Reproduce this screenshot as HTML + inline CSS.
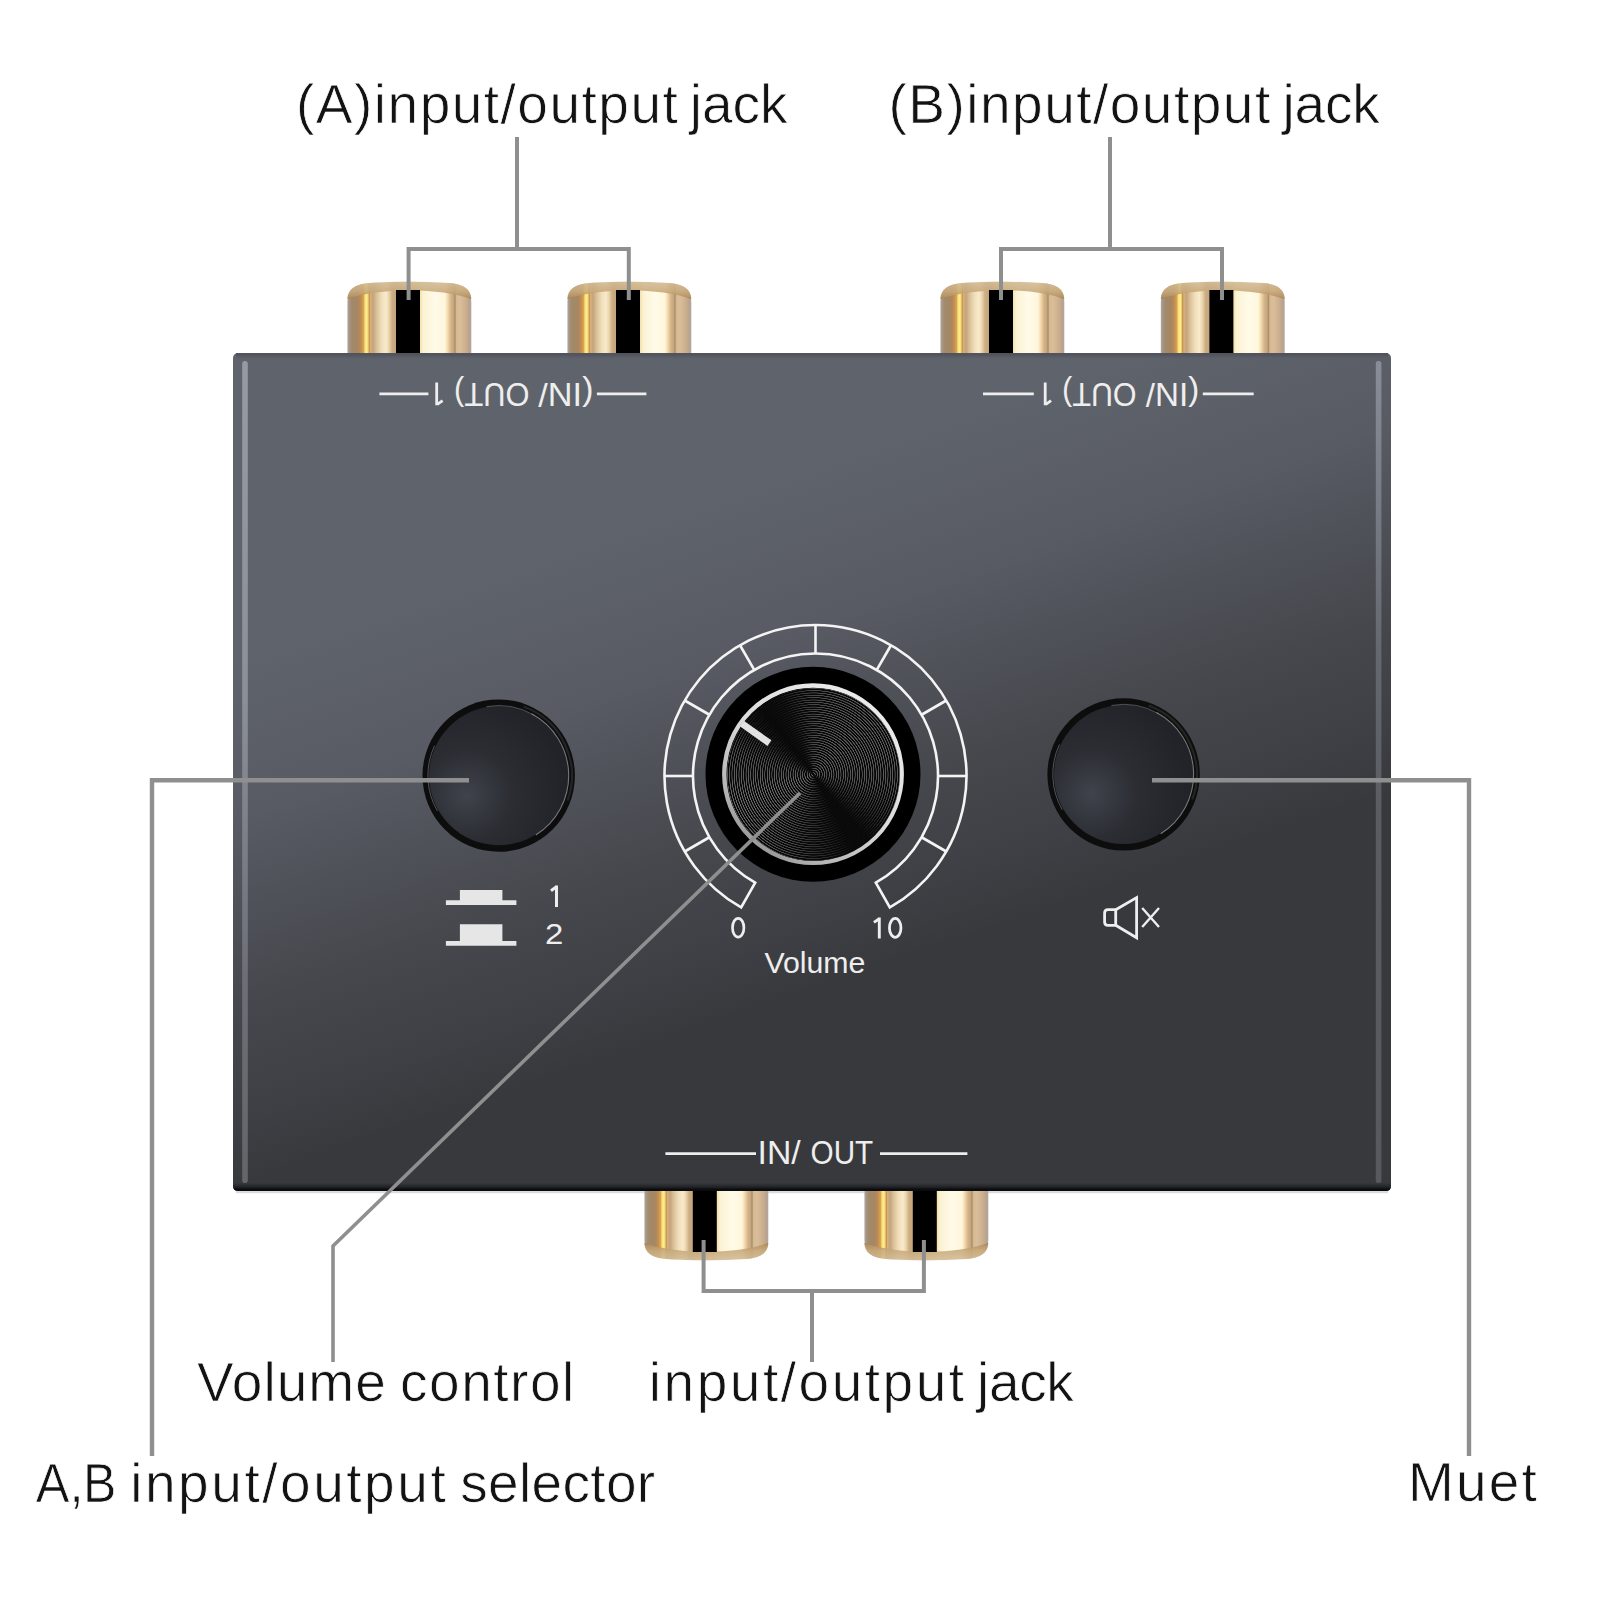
<!DOCTYPE html><html><head><meta charset="utf-8"><style>
html,body{margin:0;padding:0;background:#fff;width:1600px;height:1600px;overflow:hidden}
.lay{position:absolute;left:0;top:0}
#knobface{position:absolute;left:726.5px;top:687.7px;width:173px;height:173px;border-radius:50%;background:repeating-radial-gradient(circle at 50% 50%, rgba(8,8,8,1) 0px, rgba(8,8,8,1) 1.0px, rgba(0,0,0,0) 1.35px, rgba(0,0,0,0) 1.95px, rgba(8,8,8,1) 2.35px),conic-gradient(from 0deg at 50% 50%, #4a4a4a 0deg, #5e5e5e 45deg, #585858 95deg, #303030 122deg, #0c0c0c 140deg, #0c0c0c 152deg, #303030 178deg, #5c5c5c 220deg, #6a6a6a 250deg, #505050 285deg, #1e1e1e 308deg, #0a0a0a 322deg, #161616 338deg, #4a4a4a 360deg)}
</style></head><body>
<svg class="lay" width="1600" height="1600" viewBox="0 0 1600 1600">
<defs>
<linearGradient id="gt0" gradientUnits="userSpaceOnUse" x1="347.4" y1="0" x2="471.29999999999995" y2="0"><stop offset="0.0" stop-color="#b4aca6"/><stop offset="0.013" stop-color="#a89684"/><stop offset="0.037" stop-color="#a08a6c"/><stop offset="0.086" stop-color="#a88660"/><stop offset="0.11" stop-color="#c08c58"/><stop offset="0.13" stop-color="#dca444"/><stop offset="0.142" stop-color="#f6e084"/><stop offset="0.158" stop-color="#fff090"/><stop offset="0.17" stop-color="#e8c060"/><stop offset="0.176" stop-color="#c09048"/><stop offset="0.186" stop-color="#d8b080"/><stop offset="0.207" stop-color="#c4a47c"/><stop offset="0.239" stop-color="#dcc49c"/><stop offset="0.279" stop-color="#f2e0bc"/><stop offset="0.312" stop-color="#f8eacc"/><stop offset="0.336" stop-color="#ead4ac"/><stop offset="0.36" stop-color="#cdae84"/><stop offset="0.392" stop-color="#c4a47c"/><stop offset="0.588" stop-color="#f4e2ac"/><stop offset="0.61" stop-color="#fbf2d4"/><stop offset="0.707" stop-color="#fffbe8"/><stop offset="0.788" stop-color="#fff6dc"/><stop offset="0.812" stop-color="#f2d6a8"/><stop offset="0.836" stop-color="#d4b48a"/><stop offset="0.86" stop-color="#c4a47c"/><stop offset="0.868" stop-color="#a88860"/><stop offset="0.88" stop-color="#d4ba94"/><stop offset="0.909" stop-color="#dabe9a"/><stop offset="0.957" stop-color="#cbae8c"/><stop offset="0.985" stop-color="#b8a290"/><stop offset="1.0" stop-color="#b0a8a4"/></linearGradient>
<linearGradient id="gt1" gradientUnits="userSpaceOnUse" x1="567.4" y1="0" x2="691.3" y2="0"><stop offset="0.0" stop-color="#b4aca6"/><stop offset="0.013" stop-color="#a89684"/><stop offset="0.037" stop-color="#a08a6c"/><stop offset="0.086" stop-color="#a88660"/><stop offset="0.11" stop-color="#c08c58"/><stop offset="0.13" stop-color="#dca444"/><stop offset="0.142" stop-color="#f6e084"/><stop offset="0.158" stop-color="#fff090"/><stop offset="0.17" stop-color="#e8c060"/><stop offset="0.176" stop-color="#c09048"/><stop offset="0.186" stop-color="#d8b080"/><stop offset="0.207" stop-color="#c4a47c"/><stop offset="0.239" stop-color="#dcc49c"/><stop offset="0.279" stop-color="#f2e0bc"/><stop offset="0.312" stop-color="#f8eacc"/><stop offset="0.336" stop-color="#ead4ac"/><stop offset="0.36" stop-color="#cdae84"/><stop offset="0.392" stop-color="#c4a47c"/><stop offset="0.588" stop-color="#f4e2ac"/><stop offset="0.61" stop-color="#fbf2d4"/><stop offset="0.707" stop-color="#fffbe8"/><stop offset="0.788" stop-color="#fff6dc"/><stop offset="0.812" stop-color="#f2d6a8"/><stop offset="0.836" stop-color="#d4b48a"/><stop offset="0.86" stop-color="#c4a47c"/><stop offset="0.868" stop-color="#a88860"/><stop offset="0.88" stop-color="#d4ba94"/><stop offset="0.909" stop-color="#dabe9a"/><stop offset="0.957" stop-color="#cbae8c"/><stop offset="0.985" stop-color="#b8a290"/><stop offset="1.0" stop-color="#b0a8a4"/></linearGradient>
<linearGradient id="gt2" gradientUnits="userSpaceOnUse" x1="940.4" y1="0" x2="1064.3" y2="0"><stop offset="0.0" stop-color="#b4aca6"/><stop offset="0.013" stop-color="#a89684"/><stop offset="0.037" stop-color="#a08a6c"/><stop offset="0.086" stop-color="#a88660"/><stop offset="0.11" stop-color="#c08c58"/><stop offset="0.13" stop-color="#dca444"/><stop offset="0.142" stop-color="#f6e084"/><stop offset="0.158" stop-color="#fff090"/><stop offset="0.17" stop-color="#e8c060"/><stop offset="0.176" stop-color="#c09048"/><stop offset="0.186" stop-color="#d8b080"/><stop offset="0.207" stop-color="#c4a47c"/><stop offset="0.239" stop-color="#dcc49c"/><stop offset="0.279" stop-color="#f2e0bc"/><stop offset="0.312" stop-color="#f8eacc"/><stop offset="0.336" stop-color="#ead4ac"/><stop offset="0.36" stop-color="#cdae84"/><stop offset="0.392" stop-color="#c4a47c"/><stop offset="0.588" stop-color="#f4e2ac"/><stop offset="0.61" stop-color="#fbf2d4"/><stop offset="0.707" stop-color="#fffbe8"/><stop offset="0.788" stop-color="#fff6dc"/><stop offset="0.812" stop-color="#f2d6a8"/><stop offset="0.836" stop-color="#d4b48a"/><stop offset="0.86" stop-color="#c4a47c"/><stop offset="0.868" stop-color="#a88860"/><stop offset="0.88" stop-color="#d4ba94"/><stop offset="0.909" stop-color="#dabe9a"/><stop offset="0.957" stop-color="#cbae8c"/><stop offset="0.985" stop-color="#b8a290"/><stop offset="1.0" stop-color="#b0a8a4"/></linearGradient>
<linearGradient id="gt3" gradientUnits="userSpaceOnUse" x1="1160.8" y1="0" x2="1284.7" y2="0"><stop offset="0.0" stop-color="#b4aca6"/><stop offset="0.013" stop-color="#a89684"/><stop offset="0.037" stop-color="#a08a6c"/><stop offset="0.086" stop-color="#a88660"/><stop offset="0.11" stop-color="#c08c58"/><stop offset="0.13" stop-color="#dca444"/><stop offset="0.142" stop-color="#f6e084"/><stop offset="0.158" stop-color="#fff090"/><stop offset="0.17" stop-color="#e8c060"/><stop offset="0.176" stop-color="#c09048"/><stop offset="0.186" stop-color="#d8b080"/><stop offset="0.207" stop-color="#c4a47c"/><stop offset="0.239" stop-color="#dcc49c"/><stop offset="0.279" stop-color="#f2e0bc"/><stop offset="0.312" stop-color="#f8eacc"/><stop offset="0.336" stop-color="#ead4ac"/><stop offset="0.36" stop-color="#cdae84"/><stop offset="0.392" stop-color="#c4a47c"/><stop offset="0.588" stop-color="#f4e2ac"/><stop offset="0.61" stop-color="#fbf2d4"/><stop offset="0.707" stop-color="#fffbe8"/><stop offset="0.788" stop-color="#fff6dc"/><stop offset="0.812" stop-color="#f2d6a8"/><stop offset="0.836" stop-color="#d4b48a"/><stop offset="0.86" stop-color="#c4a47c"/><stop offset="0.868" stop-color="#a88860"/><stop offset="0.88" stop-color="#d4ba94"/><stop offset="0.909" stop-color="#dabe9a"/><stop offset="0.957" stop-color="#cbae8c"/><stop offset="0.985" stop-color="#b8a290"/><stop offset="1.0" stop-color="#b0a8a4"/></linearGradient>
<linearGradient id="gb0" gradientUnits="userSpaceOnUse" x1="644.4" y1="0" x2="768.3" y2="0"><stop offset="0.0" stop-color="#b4aca6"/><stop offset="0.013" stop-color="#a89684"/><stop offset="0.037" stop-color="#a08a6c"/><stop offset="0.086" stop-color="#a88660"/><stop offset="0.11" stop-color="#c08c58"/><stop offset="0.13" stop-color="#dca444"/><stop offset="0.142" stop-color="#f6e084"/><stop offset="0.158" stop-color="#fff090"/><stop offset="0.17" stop-color="#e8c060"/><stop offset="0.176" stop-color="#c09048"/><stop offset="0.186" stop-color="#d8b080"/><stop offset="0.207" stop-color="#c4a47c"/><stop offset="0.239" stop-color="#dcc49c"/><stop offset="0.279" stop-color="#f2e0bc"/><stop offset="0.312" stop-color="#f8eacc"/><stop offset="0.336" stop-color="#ead4ac"/><stop offset="0.36" stop-color="#cdae84"/><stop offset="0.392" stop-color="#c4a47c"/><stop offset="0.588" stop-color="#f4e2ac"/><stop offset="0.61" stop-color="#fbf2d4"/><stop offset="0.707" stop-color="#fffbe8"/><stop offset="0.788" stop-color="#fff6dc"/><stop offset="0.812" stop-color="#f2d6a8"/><stop offset="0.836" stop-color="#d4b48a"/><stop offset="0.86" stop-color="#c4a47c"/><stop offset="0.868" stop-color="#a88860"/><stop offset="0.88" stop-color="#d4ba94"/><stop offset="0.909" stop-color="#dabe9a"/><stop offset="0.957" stop-color="#cbae8c"/><stop offset="0.985" stop-color="#b8a290"/><stop offset="1.0" stop-color="#b0a8a4"/></linearGradient>
<linearGradient id="gb1" gradientUnits="userSpaceOnUse" x1="864.4" y1="0" x2="988.3" y2="0"><stop offset="0.0" stop-color="#b4aca6"/><stop offset="0.013" stop-color="#a89684"/><stop offset="0.037" stop-color="#a08a6c"/><stop offset="0.086" stop-color="#a88660"/><stop offset="0.11" stop-color="#c08c58"/><stop offset="0.13" stop-color="#dca444"/><stop offset="0.142" stop-color="#f6e084"/><stop offset="0.158" stop-color="#fff090"/><stop offset="0.17" stop-color="#e8c060"/><stop offset="0.176" stop-color="#c09048"/><stop offset="0.186" stop-color="#d8b080"/><stop offset="0.207" stop-color="#c4a47c"/><stop offset="0.239" stop-color="#dcc49c"/><stop offset="0.279" stop-color="#f2e0bc"/><stop offset="0.312" stop-color="#f8eacc"/><stop offset="0.336" stop-color="#ead4ac"/><stop offset="0.36" stop-color="#cdae84"/><stop offset="0.392" stop-color="#c4a47c"/><stop offset="0.588" stop-color="#f4e2ac"/><stop offset="0.61" stop-color="#fbf2d4"/><stop offset="0.707" stop-color="#fffbe8"/><stop offset="0.788" stop-color="#fff6dc"/><stop offset="0.812" stop-color="#f2d6a8"/><stop offset="0.836" stop-color="#d4b48a"/><stop offset="0.86" stop-color="#c4a47c"/><stop offset="0.868" stop-color="#a88860"/><stop offset="0.88" stop-color="#d4ba94"/><stop offset="0.909" stop-color="#dabe9a"/><stop offset="0.957" stop-color="#cbae8c"/><stop offset="0.985" stop-color="#b8a290"/><stop offset="1.0" stop-color="#b0a8a4"/></linearGradient>
<linearGradient id="rimT" x1="0" y1="0" x2="0" y2="1"><stop offset="0" stop-color="#d2bc98" stop-opacity="1"/><stop offset="0.55" stop-color="#c8aa7c" stop-opacity="1"/><stop offset="0.85" stop-color="#b89464" stop-opacity="1"/><stop offset="1" stop-color="#9a7a4c" stop-opacity="1"/></linearGradient>
<linearGradient id="rimB" x1="0" y1="1" x2="0" y2="0"><stop offset="0" stop-color="#d2bc98" stop-opacity="1"/><stop offset="0.55" stop-color="#c8aa7c" stop-opacity="1"/><stop offset="0.85" stop-color="#b89464" stop-opacity="1"/><stop offset="1" stop-color="#9a7a4c" stop-opacity="1"/></linearGradient>
<linearGradient id="boxg" gradientUnits="userSpaceOnUse" x1="225.4" y1="662.9" x2="386.4" y2="1136.4"><stop offset="0" stop-color="#5f636b"/><stop offset="0.3" stop-color="#585b63"/><stop offset="0.48" stop-color="#4f5159"/><stop offset="0.67" stop-color="#46474c"/><stop offset="0.86" stop-color="#3f4045"/><stop offset="1" stop-color="#38393d"/></linearGradient>
<linearGradient id="botedge" x1="0" y1="0" x2="0" y2="1"><stop offset="0" stop-color="#222326" stop-opacity="0"/><stop offset="0.5" stop-color="#222326" stop-opacity="1"/><stop offset="0.8" stop-color="#0b0c10" stop-opacity="1"/><stop offset="1" stop-color="#0b0c10" stop-opacity="1"/></linearGradient>
<linearGradient id="topedge" x1="0" y1="0" x2="0" y2="1"><stop offset="0" stop-color="#50525c" stop-opacity="1"/><stop offset="0.3" stop-color="#52545e" stop-opacity="1"/><stop offset="1" stop-color="#5f636b" stop-opacity="0"/></linearGradient>
<linearGradient id="stripL" x1="0" y1="0" x2="0" y2="1"><stop offset="0" stop-color="#959aa5"/><stop offset="0.4" stop-color="#8c909b"/><stop offset="0.75" stop-color="#6d6f77"/><stop offset="1" stop-color="#646569"/></linearGradient>
<linearGradient id="stripR" x1="0" y1="0" x2="0" y2="1"><stop offset="0" stop-color="#898d97"/><stop offset="0.15" stop-color="#7a7e87"/><stop offset="0.35" stop-color="#65686f"/><stop offset="0.55" stop-color="#5a5c62"/><stop offset="1" stop-color="#58595e"/></linearGradient>
<linearGradient id="rim" gradientUnits="userSpaceOnUse" x1="870" y1="700" x2="750" y2="860"><stop offset="0" stop-color="#ececec"/><stop offset="0.45" stop-color="#dcdcdc"/><stop offset="0.8" stop-color="#b4b4b4"/><stop offset="1" stop-color="#8a8a8a"/></linearGradient>
<radialGradient id="btn" cx="0.27" cy="0.64" r="0.72"><stop offset="0" stop-color="#40434b"/><stop offset="0.45" stop-color="#2b2d33"/><stop offset="1" stop-color="#222328"/></radialGradient>
</defs>
<rect x="236" y="1191" width="1152" height="2.2" fill="#9a9aa0" opacity="0.35"/>
<path d="M347.4,356.0 V302.0 C347.4,289.0 355.4,284.2 369.4,283.0 Q409.34999999999997,280.4 449.29999999999995,283.0 C463.29999999999995,284.2 471.29999999999995,289.0 471.29999999999995,302.0 V356.0 Z" fill="url(#gt0)"/>
<path d="M347.4,299.0 C347.4,289.0 355.4,284.2 369.4,283.0 Q409.34999999999997,280.4 449.29999999999995,283.0 C463.29999999999995,284.2 471.29999999999995,289.0 471.29999999999995,299.0 Q446.52,290.5 409.34999999999997,290.2 Q372.17999999999995,290.5 347.4,299.0 Z" fill="url(#rimT)" opacity="0.88"/>
<rect x="396.0" y="290" width="24" height="66" fill="#000"/>
<path d="M567.4,356.0 V302.0 C567.4,289.0 575.4,284.2 589.4,283.0 Q629.35,280.4 669.3,283.0 C683.3,284.2 691.3,289.0 691.3,302.0 V356.0 Z" fill="url(#gt1)"/>
<path d="M567.4,299.0 C567.4,289.0 575.4,284.2 589.4,283.0 Q629.35,280.4 669.3,283.0 C683.3,284.2 691.3,289.0 691.3,299.0 Q666.52,290.5 629.35,290.2 Q592.18,290.5 567.4,299.0 Z" fill="url(#rimT)" opacity="0.88"/>
<rect x="616.0" y="290" width="24" height="66" fill="#000"/>
<path d="M940.4,356.0 V302.0 C940.4,289.0 948.4,284.2 962.4,283.0 Q1002.35,280.4 1042.3,283.0 C1056.3,284.2 1064.3,289.0 1064.3,302.0 V356.0 Z" fill="url(#gt2)"/>
<path d="M940.4,299.0 C940.4,289.0 948.4,284.2 962.4,283.0 Q1002.35,280.4 1042.3,283.0 C1056.3,284.2 1064.3,289.0 1064.3,299.0 Q1039.52,290.5 1002.35,290.2 Q965.18,290.5 940.4,299.0 Z" fill="url(#rimT)" opacity="0.88"/>
<rect x="989.0" y="290" width="24" height="66" fill="#000"/>
<path d="M1160.8,356.0 V302.0 C1160.8,289.0 1168.8,284.2 1182.8,283.0 Q1222.75,280.4 1262.7,283.0 C1276.7,284.2 1284.7,289.0 1284.7,302.0 V356.0 Z" fill="url(#gt3)"/>
<path d="M1160.8,299.0 C1160.8,289.0 1168.8,284.2 1182.8,283.0 Q1222.75,280.4 1262.7,283.0 C1276.7,284.2 1284.7,289.0 1284.7,299.0 Q1259.92,290.5 1222.75,290.2 Q1185.58,290.5 1160.8,299.0 Z" fill="url(#rimT)" opacity="0.88"/>
<rect x="1209.3999999999999" y="290" width="24" height="66" fill="#000"/>
<path d="M644.4,1188.0 V1240.0 C644.4,1253.0 652.4,1257.8 666.4,1259.0 Q706.35,1261.6 746.3,1259.0 C760.3,1257.8 768.3,1253.0 768.3,1240.0 V1188.0 Z" fill="url(#gb0)"/>
<path d="M644.4,1243.0 C644.4,1253.0 652.4,1257.8 666.4,1259.0 Q706.35,1261.6 746.3,1259.0 C760.3,1257.8 768.3,1253.0 768.3,1243.0 Q743.52,1251.5 706.35,1251.8 Q669.18,1251.5 644.4,1243.0 Z" fill="url(#rimB)" opacity="0.88"/>
<rect x="692.8" y="1188" width="24" height="64" fill="#000"/>
<path d="M864.4,1188.0 V1240.0 C864.4,1253.0 872.4,1257.8 886.4,1259.0 Q926.35,1261.6 966.3,1259.0 C980.3,1257.8 988.3,1253.0 988.3,1240.0 V1188.0 Z" fill="url(#gb1)"/>
<path d="M864.4,1243.0 C864.4,1253.0 872.4,1257.8 886.4,1259.0 Q926.35,1261.6 966.3,1259.0 C980.3,1257.8 988.3,1253.0 988.3,1243.0 Q963.52,1251.5 926.35,1251.8 Q889.18,1251.5 864.4,1243.0 Z" fill="url(#rimB)" opacity="0.88"/>
<rect x="912.8" y="1188" width="24" height="64" fill="#000"/>
<rect x="233" y="353" width="1158" height="838" rx="5" ry="5" fill="url(#boxg)"/>
<rect x="236" y="353" width="1152" height="7" fill="url(#topedge)"/>
<path d="M233,1183 H1391 V1186 Q1391,1191 1386,1191 H238 Q233,1191 233,1186 Z" fill="url(#botedge)"/>
<rect x="242.2" y="361" width="5.6" height="822" rx="2.8" fill="url(#stripL)"/>
<rect x="1375.8" y="361" width="5.6" height="822" rx="2.5" fill="url(#stripR)"/>
<line x1="379.4" y1="393.8" x2="428.4" y2="393.8" stroke="#eeeeee" stroke-width="2.8"/><line x1="596.9" y1="393.8" x2="646.4" y2="393.8" stroke="#eeeeee" stroke-width="2.8"/><g transform="rotate(180 500.0 394.0)"><text x="406.6" y="405.4" font-family="Liberation Sans, sans-serif" font-size="33.6" fill="#eeeeee"  textLength="55.09" lengthAdjust="spacingAndGlyphs" >(IN/</text><text x="470.5" y="405.4" font-family="Liberation Sans, sans-serif" font-size="33.6" fill="#eeeeee"  textLength="75.46" lengthAdjust="spacingAndGlyphs" >OUT)</text></g><path d="M436.7,382.6 V405.2 M437.3,404.3 L442.59999999999997,400.6" fill="none" stroke="#eeeeee" stroke-width="2.8" stroke-linecap="butt"/>
<line x1="983" y1="393.8" x2="1033.8" y2="393.8" stroke="#eeeeee" stroke-width="2.8"/><line x1="1202.8" y1="393.8" x2="1253.7" y2="393.8" stroke="#eeeeee" stroke-width="2.8"/><g transform="rotate(180 1130.0 394.0)"><text x="1060.8" y="405.4" font-family="Liberation Sans, sans-serif" font-size="33.6" fill="#eeeeee"  textLength="53.49" lengthAdjust="spacingAndGlyphs" >(IN/</text><text x="1123.4" y="405.4" font-family="Liberation Sans, sans-serif" font-size="33.6" fill="#eeeeee"  textLength="74.46" lengthAdjust="spacingAndGlyphs" >OUT)</text></g><path d="M1045.2,382.6 V405.2 M1045.8,404.3 L1051.1000000000001,400.6" fill="none" stroke="#eeeeee" stroke-width="2.8" stroke-linecap="butt"/>
<line x1="665.4" y1="1153.6" x2="756" y2="1153.6" stroke="#eeeeee" stroke-width="2.6"/>
<line x1="880" y1="1153.6" x2="967.4" y2="1153.6" stroke="#eeeeee" stroke-width="2.6"/>
<text x="757.6" y="1164.4" font-family="Liberation Sans, sans-serif" font-size="33" fill="#eeeeee"  textLength="43.17" lengthAdjust="spacingAndGlyphs" >IN/</text>
<text x="810.6" y="1164.4" font-family="Liberation Sans, sans-serif" font-size="33" fill="#eeeeee"  textLength="62.67" lengthAdjust="spacingAndGlyphs" >OUT</text>
<circle cx="498.7" cy="775.6" r="76.2" fill="#0d0d0e"/>
<circle cx="498.7" cy="775.6" r="69.6" fill="url(#btn)"/>
<path d="M486.54,706.66 A70.0,70.0 0 0 1 533.70,714.98" fill="none" stroke="#6a6c70" stroke-width="1.0" opacity="0.7"/>
<path d="M531.56,713.79 A70.0,70.0 0 0 1 535.79,834.96" fill="none" stroke="#909296" stroke-width="1.1" opacity="0.8"/>
<path d="M437.39,811.00 A70.8,70.8 0 0 1 434.53,745.68" fill="none" stroke="#8c8e92" stroke-width="1.0" opacity="0.55"/>
<path d="M523.74,706.81 A73.2,73.2 0 0 1 567.49,800.64" fill="none" stroke="#2a2a2c" stroke-width="2.2" opacity="0.8"/>
<circle cx="1123.6" cy="774.4" r="76.2" fill="#0d0d0e"/>
<circle cx="1123.6" cy="774.4" r="69.6" fill="url(#btn)"/>
<path d="M1111.44,705.46 A70.0,70.0 0 0 1 1158.60,713.78" fill="none" stroke="#6a6c70" stroke-width="1.0" opacity="0.7"/>
<path d="M1156.46,712.59 A70.0,70.0 0 0 1 1160.69,833.76" fill="none" stroke="#909296" stroke-width="1.1" opacity="0.8"/>
<path d="M1062.29,809.80 A70.8,70.8 0 0 1 1059.43,744.48" fill="none" stroke="#8c8e92" stroke-width="1.0" opacity="0.55"/>
<path d="M1148.64,705.61 A73.2,73.2 0 0 1 1192.39,799.44" fill="none" stroke="#2a2a2c" stroke-width="2.2" opacity="0.8"/>
<path d="M445.9,900.2 H459.9 V890.1 H502.4 V900.2 H516.4 V905.0 H445.9 Z" fill="#e6e6e6"/>
<path d="M445.9,940.9 H459.9 V924.2 H502.4 V940.9 H516.4 V945.6999999999999 H445.9 Z" fill="#e6e6e6"/>
<path d="M556.5,885.4 V907 M556.9,886.4 L551,890.7" fill="none" stroke="#eeeeee" stroke-width="3"/>
<text x="545.0" y="943.9" font-family="Liberation Sans, sans-serif" font-size="30" fill="#eeeeee"  textLength="18.29" lengthAdjust="spacingAndGlyphs" >2</text>
<path d="M1115.7,909.7 H1108 Q1104.6,909.7 1104.6,913 V922 Q1104.6,925.3 1108,925.3 H1115.7 Z" fill="none" stroke="#eeeeee" stroke-width="2.8" stroke-linejoin="round"/>
<path d="M1115.7,909.7 L1136.6,897.6 V937.8 L1115.7,925.3" fill="none" stroke="#eeeeee" stroke-width="2.8" stroke-linejoin="miter"/>
<path d="M1142.2,908 L1159,927 M1159,908 L1142.2,927" stroke="#eeeeee" stroke-width="2.4"/>
<path d="M741.14,907.42 A151.0,151.0 0 1 1 889.86,907.42 L875.82,882.62 A122.5,122.5 0 1 0 755.18,882.62 Z" fill="none" stroke="#f4f4f4" stroke-width="2.6" stroke-linejoin="miter"/>
<line x1="921.59" y1="837.25" x2="946.27" y2="851.50" stroke="#f4f4f4" stroke-width="2.6"/>
<line x1="938.00" y1="776.00" x2="966.50" y2="776.00" stroke="#f4f4f4" stroke-width="2.6"/>
<line x1="921.59" y1="714.75" x2="946.27" y2="700.50" stroke="#f4f4f4" stroke-width="2.6"/>
<line x1="876.75" y1="669.91" x2="891.00" y2="645.23" stroke="#f4f4f4" stroke-width="2.6"/>
<line x1="815.50" y1="653.50" x2="815.50" y2="625.00" stroke="#f4f4f4" stroke-width="2.6"/>
<line x1="754.25" y1="669.91" x2="740.00" y2="645.23" stroke="#f4f4f4" stroke-width="2.6"/>
<line x1="709.41" y1="714.75" x2="684.73" y2="700.50" stroke="#f4f4f4" stroke-width="2.6"/>
<line x1="693.00" y1="776.00" x2="664.50" y2="776.00" stroke="#f4f4f4" stroke-width="2.6"/>
<line x1="709.41" y1="837.25" x2="684.73" y2="851.50" stroke="#f4f4f4" stroke-width="2.6"/>
<circle cx="813.0" cy="774.2" r="107.5" fill="#000"/>
<circle cx="813.0" cy="774.2" r="88.7" fill="none" stroke="url(#rim)" stroke-width="4.4"/>
</svg>
<div id="knobface"></div>
<svg class="lay" width="1600" height="1600" viewBox="0 0 1600 1600">
<line x1="742.17" y1="723.68" x2="769.44" y2="743.13" stroke="#e2e2e2" stroke-width="6.8"/>
<ellipse cx="738.2" cy="927.7" rx="5.7" ry="9.4" fill="none" stroke="#eeeeee" stroke-width="2.7"/>
<path d="M879.3,917.4 V938.4 M879.7,918.5 L873.9,922.4" fill="none" stroke="#eeeeee" stroke-width="2.9"/>
<ellipse cx="895.2" cy="927.9" rx="5.75" ry="9.45" fill="none" stroke="#eeeeee" stroke-width="2.8"/>
<text x="764.4" y="972.5" font-family="Liberation Sans, sans-serif" font-size="30" fill="#eeeeee"  textLength="101.08" lengthAdjust="spacingAndGlyphs" >Volume</text>
<path d="M517,137 V249 M408.6,300 V249 H628.8 V300" fill="none" stroke="#8f8f8f" stroke-width="4"/>
<path d="M1110,137 V249 M1001,300 V249 H1222 V300" fill="none" stroke="#8f8f8f" stroke-width="4"/>
<path d="M703.6,1240 V1291 H923.9 V1240 M812,1291 V1362" fill="none" stroke="#8f8f8f" stroke-width="4"/>
<path d="M469,780.2 H152 V1456" fill="none" stroke="#8f8f8f" stroke-width="4.4"/>
<path d="M1152,780.2 H1469 V1456" fill="none" stroke="#8f8f8f" stroke-width="4.4"/>
<path d="M800,793 L333,1246 V1362" fill="none" stroke="#8f8f8f" stroke-width="3.6" stroke-linejoin="miter"/>
<text x="296.0" y="122.8" font-family="Liberation Sans, sans-serif" font-size="55" fill="#131313" stroke="#ffffff" stroke-width="0.75" textLength="381.78" lengthAdjust="spacing" >(A)input/output</text>
<text x="689.8" y="122.8" font-family="Liberation Sans, sans-serif" font-size="55" fill="#131313" stroke="#ffffff" stroke-width="0.75" textLength="97.61" lengthAdjust="spacing" >jack</text>
<text x="888.4" y="122.8" font-family="Liberation Sans, sans-serif" font-size="55" fill="#131313" stroke="#ffffff" stroke-width="0.75" textLength="381.78" lengthAdjust="spacing" >(B)input/output</text>
<text x="1282.4" y="122.8" font-family="Liberation Sans, sans-serif" font-size="55" fill="#131313" stroke="#ffffff" stroke-width="0.75" textLength="97.41" lengthAdjust="spacing" >jack</text>
<text x="197.0" y="1400.6" font-family="Liberation Sans, sans-serif" font-size="55" fill="#131313" stroke="#ffffff" stroke-width="0.75" textLength="188.85" lengthAdjust="spacing" >Volume</text>
<text x="400.0" y="1400.6" font-family="Liberation Sans, sans-serif" font-size="55" fill="#131313" stroke="#ffffff" stroke-width="0.75" textLength="174.29" lengthAdjust="spacing" >control</text>
<text x="648.8" y="1400.6" font-family="Liberation Sans, sans-serif" font-size="55" fill="#131313" stroke="#ffffff" stroke-width="0.75" textLength="315.27" lengthAdjust="spacing" >input/output</text>
<text x="977.0" y="1400.6" font-family="Liberation Sans, sans-serif" font-size="55" fill="#131313" stroke="#ffffff" stroke-width="0.75" textLength="96.81" lengthAdjust="spacing" >jack</text>
<text x="35.8" y="1502" font-family="Liberation Sans, sans-serif" font-size="55" fill="#131313" stroke="#ffffff" stroke-width="0.75" textLength="47.77" lengthAdjust="spacingAndGlyphs" >A,</text>
<text x="83.0" y="1502" font-family="Liberation Sans, sans-serif" font-size="55" fill="#131313" stroke="#ffffff" stroke-width="0.75" textLength="33.29" lengthAdjust="spacingAndGlyphs" >B</text>
<text x="130.2" y="1502" font-family="Liberation Sans, sans-serif" font-size="55" fill="#131313" stroke="#ffffff" stroke-width="0.75" textLength="315.47" lengthAdjust="spacing" >input/output</text>
<text x="460.2" y="1502" font-family="Liberation Sans, sans-serif" font-size="55" fill="#131313" stroke="#ffffff" stroke-width="0.75" textLength="194.99" lengthAdjust="spacing" >selector</text>
<text x="1408.0" y="1500.8" font-family="Liberation Sans, sans-serif" font-size="55" fill="#131313" stroke="#ffffff" stroke-width="0.75" textLength="128.68" lengthAdjust="spacing" >Muet</text>
</svg>
</body></html>
